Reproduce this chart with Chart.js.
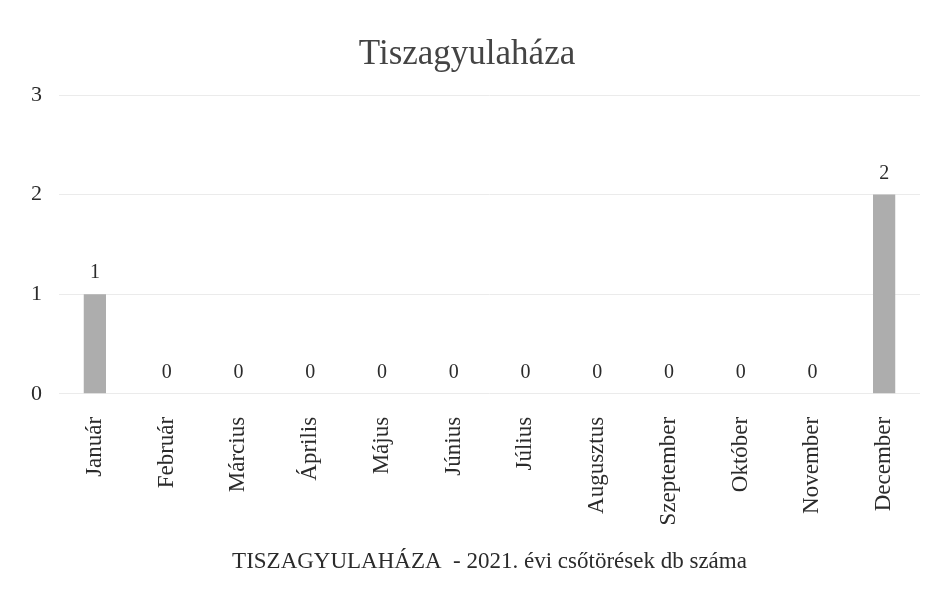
<!DOCTYPE html>
<html>
<head>
<meta charset="utf-8">
<script src="https://cdn.jsdelivr.net/npm/chart.js@4/dist/chart.umd.min.js"></script>
<style>
  html, body { margin: 0; padding: 0; background: #fff; }
  #wrap { width: 935px; height: 591px; }
</style>
</head>
<body>
<div id="wrap"><canvas id="chart"></canvas></div>
<script>
const months = ['Január', 'Február', 'Március', 'Április', 'Május', 'Június', 'Július', 'Augusztus', 'Szeptember', 'Október', 'November', 'December'];
const breaks = [1, 0, 0, 0, 0, 0, 0, 0, 0, 0, 0, 2];
const yTicks = [0, 1, 2, 3];

Chart.defaults.font.family = "'Liberation Serif', 'Times New Roman', serif";
Chart.defaults.color = '#2b2b2b';

// value labels above each bar
const valueLabels = {
    id: 'valueLabels',
    afterDatasetsDraw(chart) {
        const ctx = chart.ctx;
        const meta = chart.getDatasetMeta(0);
        ctx.save();
        ctx.font = "20px 'Liberation Serif', serif";
        ctx.fillStyle = '#2b2b2b';
        ctx.textAlign = 'center';
        ctx.textBaseline = 'alphabetic';
        meta.data.forEach(function(bar, i) {
            ctx.fillText(breaks[i], bar.x, bar.y - 16);
        });
        ctx.restore();
    }
};

const ctx = document.getElementById('chart').getContext('2d');
const chart = new Chart(ctx, {
    type: 'bar',
    data: {
        labels: months,
        datasets: [{
            label: 'Tiszagyulaháza',
            data: breaks,
            backgroundColor: '#adadad',
            borderWidth: 0,
            categoryPercentage: 1,
            barPercentage: 0.31
        }]
    },
    options: {
        responsive: true,
        maintainAspectRatio: false,
        animation: false,
        layout: { padding: { left: 14, right: 15, top: 0, bottom: 0 } },
        plugins: {
            legend: { display: false },
            tooltip: { enabled: false },
            title: {
                display: true,
                text: 'Tiszagyulaháza',
                color: '#444444',
                font: { size: 35, weight: 'normal' },
                padding: { top: 34, bottom: 19 }
            }
        },
        scales: {
            y: {
                min: 0,
                max: 3,
                afterBuildTicks: function(axis) {
                    axis.ticks = yTicks.map(v => ({ value: v }));
                },
                border: { display: false },
                grid: { color: '#ebebeb', lineWidth: 1, drawTicks: false },
                ticks: { padding: 17, font: { size: 22 }, color: '#2b2b2b' }
            },
            x: {
                border: { display: false },
                grid: { display: false },
                ticks: {
                    minRotation: 90,
                    maxRotation: 90,
                    padding: 15,
                    font: { size: 23 },
                    color: '#2b2b2b'
                },
                title: {
                    display: true,
                    text: 'TISZAGYULAHÁZA  - 2021. évi csőtörések db száma',
                    color: '#2b2b2b',
                    font: { size: 23 },
                    padding: { top: 8, bottom: 15 }
                }
            }
        }
    },
    plugins: [valueLabels]
});
</script>
</body>
</html>
